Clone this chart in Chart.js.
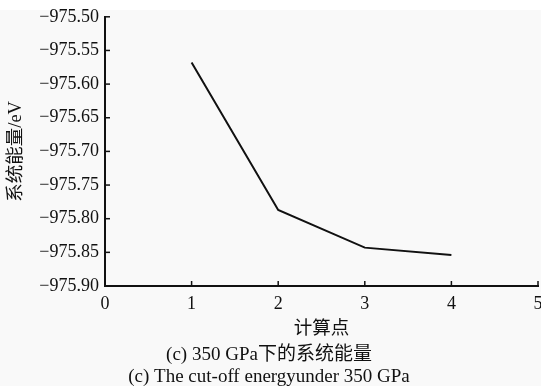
<!DOCTYPE html>
<html>
<head>
<meta charset="utf-8">
<script src="https://cdn.jsdelivr.net/npm/chart.js@4/dist/chart.umd.min.js"></script>
<style>
  html, body { margin: 0; padding: 0; background: #ffffff; }
  #wrap { width: 541px; height: 386px; position: relative; }
</style>
</head>
<body>
<div id="wrap"><canvas id="c" width="541" height="386"></canvas></div>
<script>
// ---- data ----
const points = [1, 2, 3, 4];
const energies = [-975.568, -975.787, -975.843, -975.854];
const xTicks = [0, 1, 2, 3, 4, 5];
const yTicks = [-975.90, -975.85, -975.80, -975.75, -975.70, -975.65, -975.60, -975.55, -975.50];
const yTitle = '系统能量/eV';
const xTitle = '计算点';
const captions = ['(c) 350 GPa下的系统能量', '(c) The cut-off energyunder 350 GPa'];

const FONT = "'Liberation Serif', 'Times New Roman', 'Noto Sans CJK SC', serif";

const bgPlugin = {
  id: 'bg',
  beforeDraw(chart) {
    const ctx = chart.ctx;
    ctx.save();
    ctx.fillStyle = '#ffffff';
    ctx.fillRect(0, 0, chart.width, chart.height);
    ctx.fillStyle = '#f9f9f9';
    ctx.fillRect(0, 10, chart.width, chart.height - 10);
    ctx.restore();
  }
};

const inwardTicks = {
  id: 'inwardTicks',
  afterDatasetsDraw(chart) {
    const ctx = chart.ctx;
    const xs = chart.scales.x, ys = chart.scales.y;
    ctx.save();
    ctx.strokeStyle = '#111';
    ctx.lineWidth = 1.5;
    xTicks.forEach(v => {
      const px = xs.getPixelForValue(v);
      ctx.beginPath();
      ctx.moveTo(px, xs.top);
      ctx.lineTo(px, xs.top - 5);
      ctx.stroke();
    });
    yTicks.forEach(v => {
      const py = ys.getPixelForValue(v);
      ctx.beginPath();
      ctx.moveTo(ys.right, py);
      ctx.lineTo(ys.right + 5, py);
      ctx.stroke();
    });
    ctx.restore();
  }
};

new Chart(document.getElementById('c'), {
  type: 'line',
  data: {
    datasets: [{
      data: points.map((p, i) => ({ x: p, y: energies[i] })),
      borderColor: '#111111',
      borderWidth: 2,
      pointRadius: 0,
      tension: 0,
      fill: false
    }]
  },
  options: {
    responsive: false,
    animation: false,
    devicePixelRatio: 1,
    layout: { padding: { top: 15, right: 3, left: 0, bottom: 0 } },
    plugins: {
      legend: { display: false },
      tooltip: { enabled: false },
      title: {
        display: true,
        position: 'bottom',
        text: captions,
        color: '#111',
        font: { family: FONT, size: 19, weight: 'normal', lineHeight: '22px' },
        padding: { top: 2, bottom: -2 }
      }
    },
    scales: {
      x: {
        type: 'linear',
        min: 0, max: 5,
        grid: { display: false, drawTicks: false },
        border: { display: true, color: '#111', width: 2 },
        afterBuildTicks(scale) { scale.ticks = xTicks.map(v => ({ value: v })); },
        ticks: {
          color: '#111',
          padding: 7,
          maxRotation: 0,
          autoSkip: false,
          font: { family: FONT, size: 18 },
          callback: v => String(v)
        },
        title: {
          display: true,
          text: xTitle,
          color: '#111',
          font: { family: FONT, size: 18.5 },
          padding: { top: 0, bottom: 2 }
        },
        afterFit(scale) { scale.height = 56; scale.paddingLeft = 0; scale.paddingRight = 0; }
      },
      y: {
        type: 'linear',
        min: -975.90, max: -975.50,
        grid: { display: false, drawTicks: false },
        border: { display: true, color: '#111', width: 2 },
        afterBuildTicks(scale) { scale.ticks = yTicks.map(v => ({ value: v })); },
        ticks: {
          color: '#111',
          padding: 6,
          autoSkip: false,
          font: { family: FONT, size: 18 },
          callback: v => '\u2212' + Math.abs(v).toFixed(2)
        },
        title: {
          display: true,
          text: yTitle,
          color: '#111',
          font: { family: FONT, size: 18.5 },
          padding: { top: 5, bottom: 0 }
        },
        afterFit(scale) { scale.width = 105; }
      }
    }
  },
  plugins: [bgPlugin, inwardTicks]
});
</script>
</body>
</html>
